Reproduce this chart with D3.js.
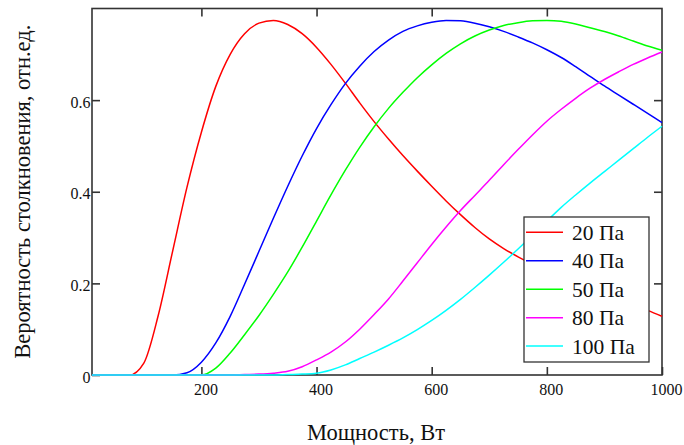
<!DOCTYPE html>
<html>
<head>
<meta charset="utf-8">
<script src="https://cdn.jsdelivr.net/npm/d3@7"></script>
<style>
  html, body { margin: 0; padding: 0; background: #fff; }
  svg { display: block; }
  svg text { font-family: "Liberation Serif", "Times New Roman", Times, "DejaVu Serif", serif; fill: #111; }
</style>
</head>
<body>
<svg id="chart" width="684" height="445"></svg>
<script>
// ---- data ----
const power = [10, 25, 50, 75, 100, 125, 150, 175, 200, 225, 250, 275, 300, 325, 350, 375, 400, 425, 450, 475, 500,
  525, 550, 575, 600, 625, 650, 675, 700, 725, 750, 775, 800, 825, 850, 875, 900, 925, 950, 975, 1000];

const p20 = [0, 0, 0, 0, 0.026, 0.13, 0.27, 0.41, 0.53, 0.63, 0.70, 0.745, 0.768, 0.774, 0.765, 0.745, 0.715,
  0.678, 0.637, 0.594, 0.553, 0.515, 0.479, 0.445, 0.412, 0.38, 0.35, 0.322, 0.297, 0.276, 0.258, 0.242, 0.228,
  0.214, 0.201, 0.189, 0.177, 0.165, 0.153, 0.141, 0.128];
const p40 = [0, 0, 0, 0, 0, 0, 0, 0.005, 0.028, 0.07, 0.128, 0.198, 0.27, 0.342, 0.412, 0.478, 0.538,
  0.59, 0.636, 0.674, 0.706, 0.731, 0.75, 0.762, 0.77, 0.774, 0.773, 0.768, 0.76, 0.75, 0.738, 0.725, 0.71,
  0.693, 0.673, 0.652, 0.631, 0.611, 0.591, 0.571, 0.551];
const p50 = [0, 0, 0, 0, 0, 0, 0, 0, 0, 0.015, 0.048, 0.088, 0.13, 0.176, 0.225, 0.279, 0.336,
  0.393, 0.447, 0.497, 0.542, 0.582, 0.617, 0.649, 0.677, 0.702, 0.723, 0.74, 0.753, 0.763, 0.769, 0.773, 0.774,
  0.772, 0.766, 0.758, 0.75, 0.74, 0.729, 0.718, 0.709];
const p80 = [0, 0, 0, 0, 0, 0, 0, 0, 0, 0, 0, 0.001, 0.002, 0.004, 0.008, 0.018, 0.033,
  0.05, 0.072, 0.1, 0.132, 0.166, 0.205, 0.245, 0.285, 0.323, 0.359, 0.392, 0.425, 0.459, 0.492, 0.524, 0.554,
  0.58, 0.604, 0.626, 0.645, 0.662, 0.678, 0.692, 0.705];
const p100 = [0, 0, 0, 0, 0, 0, 0, 0, 0, 0, 0, 0, 0, 0, 0.001, 0.002, 0.004,
  0.011, 0.022, 0.036, 0.05, 0.065, 0.081, 0.099, 0.119, 0.141, 0.165, 0.191, 0.218, 0.246, 0.275, 0.305, 0.336,
  0.366, 0.393, 0.419, 0.444, 0.469, 0.494, 0.519, 0.543];

const seriesNames = ["20 Па", "40 Па", "50 Па", "80 Па", "100 Па"];
const seriesValues = [p20, p40, p50, p80, p100];
const seriesColors = ["#ff0000", "#0000ff", "#00ff00", "#ff00ff", "#00ffff"];

const xTicks = [200, 400, 600, 800, 1000];
const yTicks = [0, 0.2, 0.4, 0.6];
const xTitle = "Мощность, Вт";
const yTitle = "Вероятность столкновения, отн.ед.";

// ---- layout ----
const FONT = '"Liberation Serif", "Times New Roman", Times, "DejaVu Serif", serif';
const svg = d3.select("#chart");
const L = 92, R = 662, T = 8.5, B = 375;
const x = d3.scaleLinear().domain([10, 1000]).range([L, R]);
const y = d3.scaleLinear().domain([0, 0.8]).range([B, T]);
const frameColor = "#333";

// frame
svg.append("rect").attr("x", L).attr("y", T).attr("width", R - L).attr("height", B - T)
  .attr("fill", "none").attr("stroke", frameColor).attr("stroke-width", 1.6);

// axes (inward ticks)
const gx = svg.append("g").attr("transform", `translate(0,${B})`)
  .call(d3.axisBottom(x).tickValues(xTicks).tickSize(-8).tickPadding(9).tickFormat(d3.format("d")));
const gxt = svg.append("g").attr("transform", `translate(0,${T})`)
  .call(d3.axisTop(x).tickValues(xTicks.filter(v => v < 1000)).tickSize(-8).tickFormat(""));
const gy = svg.append("g").attr("transform", `translate(${L},0)`)
  .call(d3.axisLeft(y).tickValues(yTicks).tickSize(-8).tickPadding(1.5).tickFormat(d => d === 0 ? "0" : d3.format(".1f")(d)));
const gyr = svg.append("g").attr("transform", `translate(${R},0)`)
  .call(d3.axisRight(y).tickValues(yTicks.filter(v => v > 0)).tickSize(-8).tickFormat(""));

[gx, gxt, gy, gyr].forEach(g => {
  g.attr("font-family", null).attr("font-size", null);
  g.select(".domain").remove();
  g.selectAll(".tick line").attr("stroke", frameColor).attr("stroke-width", 1.6);
  g.selectAll(".tick text").style("font-family", FONT).style("font-size", "16px").attr("fill", "#111");
});
gx.selectAll(".tick text").attr("dx", 4);
gy.selectAll(".tick text").attr("dy", "0.45em");

// curves
const line = d3.line().x((d, i) => x(power[i])).y(d => y(d)).curve(d3.curveMonotoneX);
seriesValues.forEach((vals, k) => {
  svg.append("path").datum(vals).attr("d", line).attr("fill", "none")
    .attr("stroke", seriesColors[k]).attr("stroke-width", 1.5);
});

// titles
svg.append("text").attr("x", (L + R) / 2 - 1).attr("y", 440).attr("text-anchor", "middle")
  .style("font-family", FONT).style("font-size", "22.5px").text(xTitle);
svg.append("text").attr("transform", `translate(30,${(T + B) / 2}) rotate(-90)`).attr("text-anchor", "middle")
  .style("font-family", FONT).style("font-size", "22.5px").text(yTitle);

// legend
const lg = svg.append("g");
lg.append("rect").attr("x", 524).attr("y", 217).attr("width", 125).attr("height", 145)
  .attr("fill", "#fff").attr("stroke", frameColor).attr("stroke-width", 1.3);
seriesNames.forEach((name, k) => {
  const yy = 232.3 + k * 28.45;
  lg.append("line").attr("x1", 526).attr("x2", 563).attr("y1", yy).attr("y2", yy)
    .attr("stroke", seriesColors[k]).attr("stroke-width", 1.5);
  lg.append("text").attr("x", 572).attr("y", yy + 7.5).style("font-family", FONT).style("font-size", "21.5px").text(name);
});
</script>
</body>
</html>
